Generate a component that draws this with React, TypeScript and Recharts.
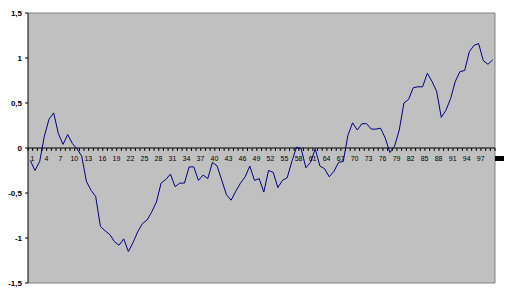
import React from "react";
import {
  ComposedChart,
  Line,
  Scatter,
  XAxis,
  YAxis,
  ReferenceLine,
} from "recharts";

const categories: number[] = Array.from({ length: 100 }, (_, i) => i + 1);

const values: number[] = [
  -0.14, -0.25, -0.15, 0.13, 0.32, 0.39, 0.16, 0.04, 0.15, 0.05,
  -0.01, -0.09, -0.37, -0.47, -0.54, -0.87, -0.92, -0.96, -1.04, -1.08,
  -1.01, -1.15, -1.05, -0.93, -0.84, -0.8, -0.71, -0.6, -0.39, -0.35,
  -0.29, -0.43, -0.39, -0.39, -0.21, -0.21, -0.36, -0.3, -0.34, -0.16,
  -0.2, -0.36, -0.52, -0.58, -0.48, -0.39, -0.32, -0.2, -0.36, -0.34,
  -0.49, -0.25, -0.27, -0.44, -0.36, -0.33, -0.15, 0.01, -0.01, -0.22,
  -0.16, -0.01, -0.2, -0.23, -0.32, -0.26, -0.16, -0.15, 0.14, 0.28,
  0.2, 0.27, 0.27, 0.21, 0.21, 0.22, 0.11, -0.05, 0.02, 0.2,
  0.5, 0.54, 0.67, 0.68, 0.68, 0.83, 0.74, 0.63, 0.34, 0.42,
  0.55, 0.74, 0.85, 0.86, 1.07, 1.14, 1.16, 0.97, 0.93, 0.98,
];

const xTickLabels: number[] = [
  1, 4, 7, 10, 13, 16, 19, 22, 25, 28, 31, 34, 37, 40, 43, 46, 49, 52, 55,
  58, 61, 64, 67, 70, 73, 76, 79, 82, 85, 88, 91, 94, 97,
];

const yTicks: number[] = [-1.5, -1, -0.5, 0, 0.5, 1, 1.5];

const Y_MIN = -1.5;
const Y_MAX = 1.5;
const X_MIN = 0.5;
const X_MAX = 100.5;

const W = 514;
const H = 296;
const M = { top: 13, right: 19, bottom: 13, left: 0 };
const Y_AXIS_W = 28;

const data = categories.map((c, i) => ({ x: c, v: values[i] }));
const tickData = [X_MIN, ...categories.map((c) => c + 0.5)].map((x) => ({ x, y: 0 }));
const labelData = xTickLabels.map((c) => ({ x: c, y: 0, label: String(c) }));

const TickMark = (props: any) => {
  const { cx, cy } = props;
  return <line x1={cx} x2={cx} y1={cy} y2={cy + 3} stroke="#000" strokeWidth={1} />;
};

const TickLabel = (props: any) => {
  const { cx, cy, payload } = props;
  return (
    <text
      x={cx + 2}
      y={cy + 13}
      textAnchor="middle"
      fontSize={7}
      fontFamily="Liberation Sans, Arial, sans-serif"
      fill="#000"
    >
      {payload.label}
    </text>
  );
};

const fmt = (v: number) => String(v).replace(".", ",");

export default function App() {
  return (
    <div style={{ position: "absolute", left: 0, top: 0, width: W, height: H }}>
      <div
        style={{
          position: "absolute",
          left: M.left + Y_AXIS_W,
          top: M.top,
          width: W - M.left - M.right - Y_AXIS_W,
          height: H - M.top - M.bottom,
          background: "#C0C0C0",
        }}
      />
      <div style={{ position: "absolute", left: 0, top: 0 }}>
        <ComposedChart width={W} height={H} data={data} margin={M}>
          <XAxis type="number" dataKey="x" domain={[X_MIN, X_MAX]} hide />
          <YAxis
            type="number"
            domain={[Y_MIN, Y_MAX]}
            ticks={yTicks}
            interval={0}
            width={Y_AXIS_W}
            tickSize={3}
            tickMargin={3}
            axisLine={{ stroke: "#000" }}
            tickLine={{ stroke: "#000" }}
            tick={{
              fontSize: 8,
              fontWeight: "bold",
              fill: "#000",
              fontFamily: "Liberation Sans, Arial, sans-serif",
            }}
            tickFormatter={fmt}
          />
          <ReferenceLine y={Y_MAX} stroke="#808080" />
          <ReferenceLine y={Y_MIN} stroke="#808080" />
          <ReferenceLine x={X_MAX} stroke="#808080" />
          <ReferenceLine y={0} stroke="#000" />
          <Scatter data={tickData} dataKey="y" shape={TickMark} isAnimationActive={false} />
          <Scatter data={labelData} dataKey="y" shape={TickLabel} isAnimationActive={false} />
          <Line
            dataKey="v"
            type="linear"
            stroke="#000080"
            strokeWidth={1}
            dot={false}
            activeDot={false}
            isAnimationActive={false}
          />
        </ComposedChart>
      </div>
      <div
        style={{
          position: "absolute",
          left: 495,
          top: 156,
          width: 9,
          height: 5,
          background: "#000",
        }}
      />
    </div>
  );
}
